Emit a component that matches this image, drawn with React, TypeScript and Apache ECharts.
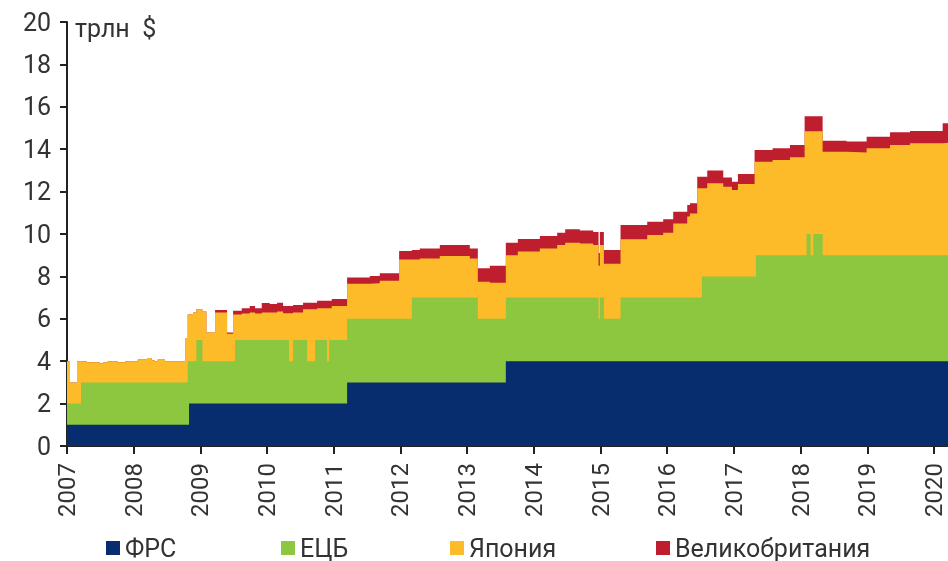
import React, { useEffect, useRef } from "react";
import * as echarts from "echarts";

// Dates as decimal years; each value holds until the next date (step chart)
const dates = [
  2007.0, 2007.045, 2007.15, 2007.21, 2007.3, 2007.49, 2007.54, 2007.61, 2007.76, 2007.87,
  2008.06, 2008.2, 2008.27, 2008.32, 2008.36, 2008.47, 2008.74, 2008.77, 2008.81, 2008.83,
  2008.89, 2008.94, 2009.03, 2009.09, 2009.22, 2009.4, 2009.49, 2009.52, 2009.62, 2009.74,
  2009.82, 2009.92, 2010.04, 2010.15, 2010.24, 2010.33, 2010.39, 2010.54, 2010.6, 2010.72,
  2010.75, 2010.9, 2010.93, 2010.97, 2011.2, 2011.54, 2011.69, 2011.98, 2012.17, 2012.29,
  2012.59, 2013.04, 2013.16, 2013.34, 2013.58, 2013.76, 2014.09, 2014.35, 2014.47, 2014.69,
  2014.89, 2014.97, 2014.99, 2015.05, 2015.3, 2015.7, 2015.94, 2016.09, 2016.3, 2016.34,
  2016.45, 2016.52, 2016.6, 2016.84, 2016.97, 2017.06, 2017.31, 2017.33, 2017.58, 2017.84,
  2018.06, 2018.09, 2018.15, 2018.19, 2018.33, 2018.69, 2018.99, 2019.34, 2019.64, 2020.13,
  2020.21,
];

const frs = [
  1, 1, 1, 1, 1, 1, 1, 1, 1, 1,
  1, 1, 1, 1, 1, 1, 1, 1, 1, 2,
  2, 2, 2, 2, 2, 2, 2, 2, 2, 2,
  2, 2, 2, 2, 2, 2, 2, 2, 2, 2,
  2, 2, 2, 2, 3, 3, 3, 3, 3, 3,
  3, 3, 3, 3, 4, 4, 4, 4, 4, 4,
  4, 4, 4, 4, 4, 4, 4, 4, 4, 4,
  4, 4, 4, 4, 4, 4, 4, 4, 4, 4,
  4, 4, 4, 4, 4, 4, 4, 4, 4, 4,
  4,
];

const ecb = [
  1, 1, 1, 2, 2, 2, 2, 2, 2, 2,
  2, 2, 2, 2, 2, 2, 2, 2, 3, 2,
  2, 3, 2, 2, 2, 2, 2, 3, 3, 3,
  3, 3, 3, 3, 3, 2, 3, 3, 2, 3,
  3, 2, 3, 3, 3, 3, 3, 3, 4, 4,
  4, 4, 3, 3, 3, 3, 3, 3, 3, 3,
  3, 2, 3, 2, 3, 3, 3, 3, 3, 3,
  3, 4, 4, 4, 4, 4, 4, 5, 5, 5,
  5, 6, 5, 6, 5, 5, 5, 5, 5, 5,
  5,
];

const japan = [
  2.0, 1.0, 2.0, 1.0, 0.95, 0.9, 0.95, 1.0, 0.95, 1.0,
  1.08, 1.15, 1.05, 1.0, 1.08, 1.0, 1.02, 2.1, 2.2, 2.2,
  2.3, 1.45, 2.35, 1.35, 2.3, 1.3, 2.2, 1.2, 1.25, 1.3,
  1.25, 1.3, 1.3, 1.34, 1.26, 2.26, 1.3, 1.45, 2.45, 1.45,
  1.5, 2.5, 1.5, 1.6, 1.65, 1.68, 1.8, 2.8, 1.8, 1.85,
  1.96, 1.85, 1.75, 1.7, 2.0, 2.17, 2.32, 2.48, 2.59, 2.55,
  2.48, 2.5, 2.48, 2.6, 2.75, 2.95, 3.06, 3.5, 3.82, 3.97,
  5.16, 4.16, 4.39, 4.23, 4.08, 4.36, 5.41, 4.41, 4.49, 4.62,
  5.85, 4.85, 5.85, 4.85, 4.88, 4.85, 5.04, 5.2, 5.28, 5.3,
  5.3,
];

const uk = [
  0, 0, 0, 0, 0, 0, 0, 0, 0, 0,
  0, 0, 0, 0, 0, 0, 0, 0, 0, 0,
  0, 0, 0, 0, 0.12, 0.05, 0.18, 0.18, 0.25, 0.3,
  0.25, 0.45, 0.4, 0.42, 0.34, 0.34, 0.35, 0.31, 0.31, 0.31,
  0.35, 0.35, 0.35, 0.33, 0.3, 0.34, 0.35, 0.4, 0.45, 0.47,
  0.52, 0.47, 0.63, 0.8, 0.59, 0.59, 0.58, 0.58, 0.63, 0.61,
  0.62, 0.6, 0.62, 0.65, 0.67, 0.63, 0.63, 0.55, 0.55, 0.48,
  0.54, 0.54, 0.6, 0.44, 0.39, 0.47, 0.55, 0.55, 0.55, 0.58,
  0.7, 0.7, 0.7, 0.7, 0.52, 0.51, 0.55, 0.6, 0.58, 0.92,
  0.92,
];

const seriesNames = ["ФРС", "ЕЦБ", "Япония", "Великобритания"];
const seriesColors = ["#072d6e", "#8dc63f", "#fdbb2a", "#bf1e2e"];
const yearTicks = [2007, 2008, 2009, 2010, 2011, 2012, 2013, 2014, 2015, 2016, 2017, 2018, 2019, 2020];
const unitLabel = "трлн  $";

const FONT = "Roboto, 'Noto Sans', sans-serif";
const legendLefts = [106, 281, 450, 656];

export default function App() {
  const ref = useRef<HTMLDivElement>(null);
  useEffect(() => {
    if (!ref.current) return;
    const chart = echarts.init(ref.current, null, { renderer: "svg" });
    const values = [frs, ecb, japan, uk];
    // cumulative tops (stack computed here; drawn back-to-front)
    const cum: number[][] = values.map(() => []);
    dates.forEach((_, k) => {
      let s = 0;
      values.forEach((arr, i) => {
        s += arr[k];
        cum[i][k] = Math.round(s * 1000) / 1000;
      });
    });
    const order = [3, 2, 1, 0];
    chart.setOption({
      animation: false,
      textStyle: { fontFamily: FONT },
      grid: { left: 67, right: 0, top: 22, bottom: 115, containLabel: false },
      legend: seriesNames.map((name, i) => ({
        data: [name],
        left: legendLefts[i],
        top: 534,
        icon: "rect",
        itemWidth: 14,
        itemHeight: 14,
        padding: 0,
        textStyle: { fontSize: 25, lineHeight: 28, color: "#333", fontFamily: FONT },
      })),
      xAxis: {
        type: "value",
        min: 2007,
        max: 2020.21,
        interval: 1,
        axisLine: { show: true, onZero: false, lineStyle: { color: "#222", width: 2 } },
        axisTick: { show: true, length: 8, customValues: yearTicks, lineStyle: { color: "#222", width: 2 } },
        axisLabel: {
          customValues: yearTicks,
          rotate: 90,
          margin: 17,
          fontSize: 24,
          color: "#333",
          fontFamily: FONT,
          formatter: (v: number) => String(v),
        },
        splitLine: { show: false },
      },
      yAxis: {
        type: "value",
        min: 0,
        max: 20,
        interval: 2,
        axisLine: { show: true, lineStyle: { color: "#222", width: 2 } },
        axisTick: { show: true, length: 7, lineStyle: { color: "#222", width: 2 } },
        axisLabel: { fontSize: 25, color: "#333", margin: 16, fontFamily: FONT },
        splitLine: { show: false },
      },
      graphic: [
        {
          type: "text",
          left: 75,
          top: 16,
          style: { text: unitLabel, fontSize: 25, fill: "#333", fontFamily: FONT },
        },
      ],
      series: order.map((i) => ({
        name: seriesNames[i],
        type: "line",
        step: "end",
        symbol: "none",
        lineStyle: { width: 0 },
        itemStyle: { color: seriesColors[i] },
        areaStyle: { color: seriesColors[i], opacity: 1, origin: "start" },
        data: dates.map((d, k) => [d, cum[i][k]]),
      })),
    });
    return () => chart.dispose();
  }, []);
  return (
    <div
      ref={ref}
      style={{ position: "fixed", left: 0, top: 0, width: 948, height: 561 }}
    />
  );
}
